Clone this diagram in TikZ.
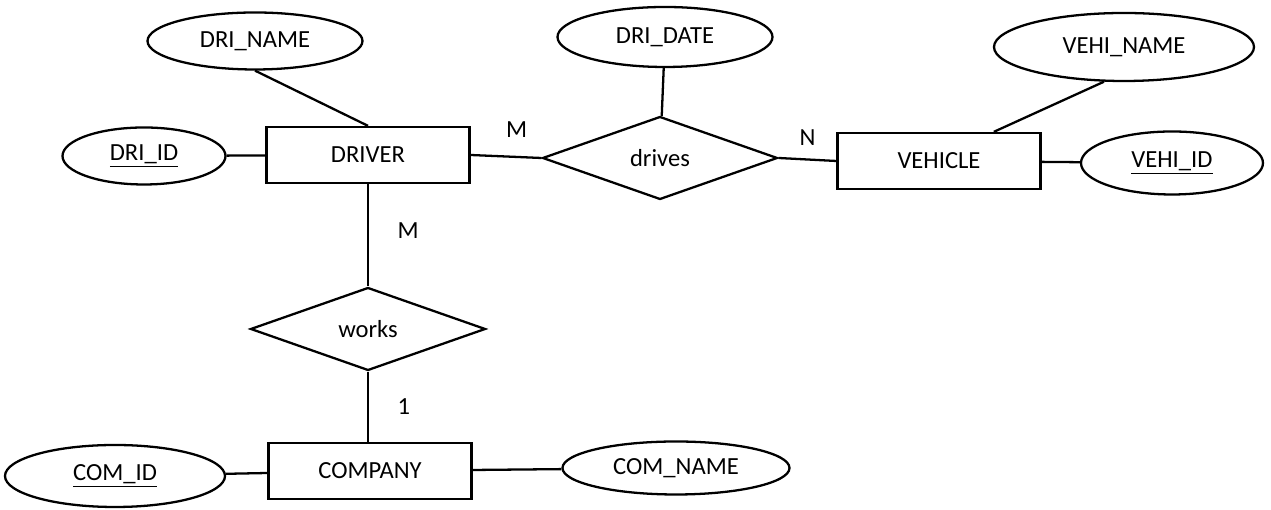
\documentclass[tikz,border=0pt]{standalone}
\usepackage{fontspec}
\setmainfont{Carlito}
\usetikzlibrary{shapes.geometric, positioning}
\tikzset{
	entity/.style={draw, rectangle, minimum width=4.06cm, minimum height=1.12cm}, % entity sets
	attrib/.style={draw, ellipse, inner sep=0pt}, % attributes, size given per node
	relation/.style={draw, diamond, minimum width=4.7cm, minimum height=1.66cm, inner sep=0pt}, % relationship sets
	card/.style={inner sep=2pt}, % cardinality labels
}

\begin{document}
\begin{tikzpicture}[line width=1.3pt, font=\fontsize{14}{16}\selectfont]
			\useasboundingbox (0,0) rectangle (25.42,10.2);

			\node[entity] (driver) at (7.36,7.10) {DRIVER};
			\node[entity] (vehicle) at (18.78,6.98) {VEHICLE};
			\node[entity] (company) at (7.40,0.78) {COMPANY};
			\node[relation] (drives) at (13.2,7.04) {drives};
			\node[relation] (works) at (7.36,3.62) {works};

			\node[attrib, minimum width=4.3cm, minimum height=1.14cm] (dname) at (5.10,9.38) {DRI\_NAME};
			\node[attrib, minimum width=3.26cm, minimum height=1.14cm] (did) at (2.88,7.08) {\underline{DRI\_ID}};
			\node[attrib, minimum width=4.3cm, minimum height=1.2cm] (ddate) at (13.3,9.46) {DRI\_DATE};
			\node[attrib, minimum width=5.2cm, minimum height=1.36cm] (vname) at (22.48,9.26) {VEHI\_NAME};
			\node[attrib, minimum width=3.64cm, minimum height=1.26cm] (vid) at (23.44,6.94) {\underline{VEHI\_ID}};
			\node[attrib, minimum width=4.4cm, minimum height=1.24cm] (cid) at (2.30,0.68) {\underline{COM\_ID}};
			\node[attrib, minimum width=4.54cm, minimum height=1.06cm] (cname) at (13.52,0.84) {COM\_NAME};

			\draw (dname.south) -- (driver.north)
				  (did) -- (driver)
				  (ddate) -- (drives)
				  (vname.240) -- (vehicle.28)
				  (vehicle) -- (vid)
				  (cid) -- (company)
				  (company) -- (cname);

			\draw (driver.east) edge node[card, pos=0.65, above=0.3cm] {M} (drives.west)
				  (drives.east) edge node[card, above=0.18cm] {N} (vehicle.west)
				  (driver.south) edge node[card, pos=0.45, right=0.5cm] {M} (works.north)
				  (works.south) edge node[card, right=0.5cm] {1} (works.south |- company.north);
		\end{tikzpicture}
\end{document}
